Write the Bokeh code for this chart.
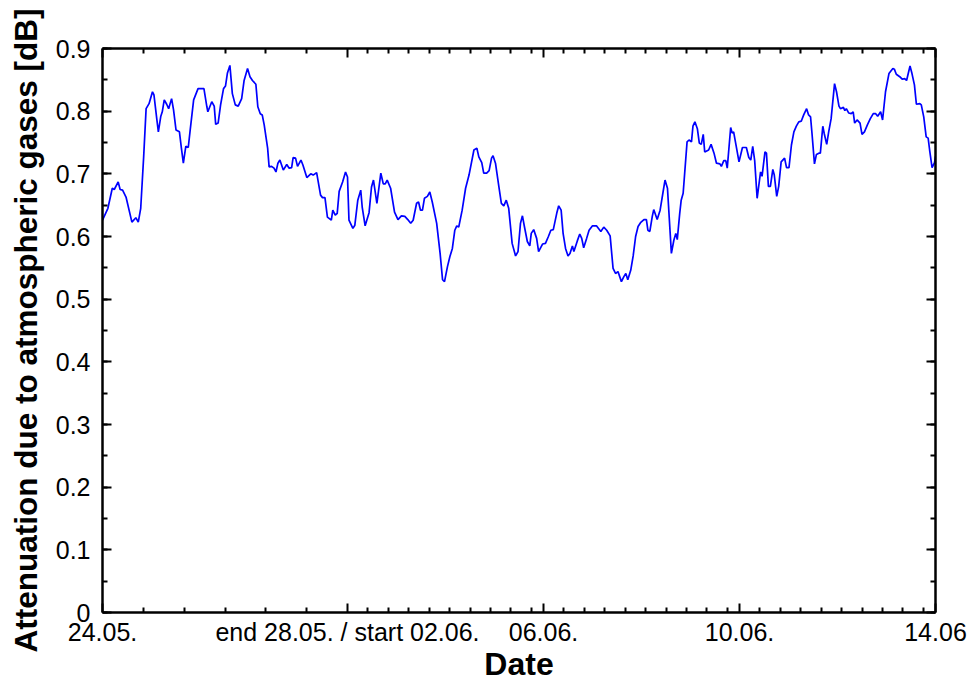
from bokeh.plotting import figure
from bokeh.models import (Range1d, LinearAxis, FixedTicker, SingleIntervalTicker,
                          NumeralTickFormatter)
from bokeh.embed import file_html
from bokeh.resources import INLINE

# Elapsed measurement time in days (24.05. 00:00 = 0; the gap 29.05.-01.06. is removed)
days = [
    0.00, 0.11, 0.20, 0.24, 0.32, 0.36, 0.41, 0.48, 0.60, 0.68, 0.73, 0.78, 0.84, 0.89, 0.95,
    1.02, 1.05, 1.11, 1.14, 1.19, 1.22, 1.26, 1.31, 1.35, 1.41, 1.45, 1.50, 1.57, 1.61, 1.65,
    1.70, 1.75, 1.79, 1.86, 1.95, 2.07, 2.13, 2.15, 2.23, 2.28, 2.31, 2.36, 2.41, 2.47, 2.51,
    2.55, 2.60, 2.65, 2.71, 2.77, 2.84, 2.89, 2.96, 3.01, 3.06, 3.13, 3.17, 3.22, 3.26, 3.30,
    3.37, 3.40, 3.45, 3.50, 3.54, 3.58, 3.62, 3.69, 3.76, 3.81, 3.86, 3.89, 3.94, 3.98, 4.05,
    4.09, 4.17, 4.25, 4.30, 4.37, 4.45, 4.49, 4.54, 4.59, 4.67, 4.70, 4.75, 4.79, 4.83, 4.90,
    4.96, 5.00, 5.03, 5.11, 5.15, 5.21, 5.27, 5.30, 5.36, 5.44, 5.49, 5.53, 5.60, 5.68, 5.73,
    5.77, 5.81, 5.88, 5.96, 6.03, 6.10, 6.17, 6.23, 6.29, 6.34, 6.41, 6.45, 6.49, 6.53, 6.57,
    6.63, 6.68, 6.73, 6.82, 6.89, 6.94, 6.98, 7.04, 7.09, 7.14, 7.19, 7.23, 7.27, 7.34, 7.41,
    7.48, 7.58, 7.64, 7.68, 7.74, 7.78, 7.84, 7.89, 7.94, 7.97, 8.02, 8.09, 8.14, 8.19, 8.24,
    8.29, 8.36, 8.43, 8.48, 8.53, 8.57, 8.61, 8.67, 8.72, 8.75, 8.80, 8.86, 8.90, 8.98, 9.04,
    9.10, 9.15, 9.20, 9.27, 9.31, 9.36, 9.40, 9.45, 9.50, 9.54, 9.59, 9.62, 9.69, 9.74, 9.78,
    9.82, 9.88, 9.93, 10.00, 10.08, 10.17, 10.23, 10.29, 10.36, 10.42, 10.47, 10.52, 10.59,
    10.64, 10.68, 10.72, 10.78, 10.83, 10.88, 10.93, 10.98, 11.05, 11.10, 11.13, 11.17, 11.22,
    11.25, 11.32, 11.38, 11.44, 11.48, 11.53, 11.61, 11.66, 11.70, 11.73, 11.78, 11.81, 11.85,
    11.93, 11.97, 12.02, 12.05, 12.09, 12.14, 12.18, 12.22, 12.26, 12.29, 12.37, 12.42, 12.48,
    12.53, 12.60, 12.63, 12.68, 12.72, 12.75, 12.82, 12.85, 12.88, 12.94, 12.99, 13.06, 13.14,
    13.19, 13.23, 13.27, 13.31, 13.36, 13.43, 13.46, 13.52, 13.55, 13.59, 13.63, 13.68, 13.71,
    13.76, 13.80, 13.85, 13.92, 13.96, 14.01, 14.06, 14.11, 14.16, 14.21, 14.26, 14.31, 14.37,
    14.41, 14.45, 14.48, 14.53, 14.57, 14.62, 14.65, 14.70, 14.73, 14.78, 14.82, 14.87, 14.94,
    14.98, 15.03, 15.06, 15.12, 15.15, 15.18, 15.23, 15.28, 15.32, 15.35, 15.40, 15.46, 15.50,
    15.55, 15.61, 15.67, 15.73, 15.78, 15.82, 15.88, 15.92, 15.98, 16.05, 16.13, 16.16, 16.20,
    16.27, 16.32, 16.37, 16.41, 16.48, 16.52, 16.57, 16.61, 16.68, 16.71, 16.76, 16.81, 16.85,
    16.88, 16.93, 16.98, 17.00,
]

# Attenuation due to atmospheric gases in dB
attenuation = [
    0.626, 0.645, 0.677, 0.675, 0.687, 0.675, 0.674, 0.663, 0.623, 0.630, 0.623, 0.645, 0.727, 0.804, 0.812,
    0.831, 0.826, 0.786, 0.767, 0.792, 0.799, 0.818, 0.811, 0.804, 0.820, 0.802, 0.770, 0.767, 0.741, 0.717,
    0.744, 0.742, 0.770, 0.818, 0.836, 0.836, 0.807, 0.799, 0.815, 0.808, 0.779, 0.781, 0.810, 0.836, 0.840,
    0.861, 0.873, 0.828, 0.810, 0.808, 0.820, 0.849, 0.868, 0.855, 0.849, 0.843, 0.807, 0.796, 0.794, 0.778,
    0.741, 0.711, 0.712, 0.709, 0.703, 0.717, 0.722, 0.706, 0.715, 0.709, 0.710, 0.726, 0.725, 0.712, 0.722,
    0.714, 0.694, 0.700, 0.698, 0.702, 0.666, 0.662, 0.662, 0.631, 0.626, 0.642, 0.634, 0.637, 0.672, 0.687,
    0.703, 0.695, 0.626, 0.613, 0.618, 0.658, 0.674, 0.647, 0.617, 0.638, 0.679, 0.690, 0.653, 0.701, 0.684,
    0.684, 0.690, 0.677, 0.639, 0.627, 0.633, 0.632, 0.627, 0.621, 0.626, 0.653, 0.655, 0.642, 0.642, 0.661,
    0.664, 0.671, 0.655, 0.621, 0.573, 0.531, 0.528, 0.552, 0.568, 0.581, 0.610, 0.617, 0.615, 0.642, 0.677,
    0.698, 0.738, 0.741, 0.727, 0.718, 0.701, 0.701, 0.705, 0.725, 0.729, 0.717, 0.679, 0.653, 0.649, 0.658,
    0.645, 0.589, 0.569, 0.576, 0.621, 0.633, 0.616, 0.592, 0.585, 0.605, 0.611, 0.597, 0.576, 0.588, 0.589,
    0.600, 0.610, 0.611, 0.637, 0.649, 0.642, 0.605, 0.581, 0.569, 0.573, 0.585, 0.576, 0.593, 0.604, 0.597,
    0.582, 0.597, 0.610, 0.617, 0.617, 0.608, 0.615, 0.610, 0.601, 0.549, 0.541, 0.544, 0.528,
    0.536, 0.541, 0.531, 0.546, 0.569, 0.600, 0.616, 0.622, 0.627, 0.627, 0.610, 0.608, 0.632,
    0.643, 0.627, 0.642, 0.671, 0.690, 0.677, 0.573, 0.594, 0.605, 0.595, 0.637, 0.658, 0.669,
    0.751, 0.754, 0.751, 0.776, 0.783, 0.772, 0.749, 0.747, 0.763, 0.735, 0.738, 0.747, 0.733,
    0.717, 0.716, 0.712, 0.721, 0.721, 0.709, 0.774, 0.765, 0.767, 0.741, 0.719, 0.742, 0.742,
    0.726, 0.722, 0.744, 0.721, 0.661, 0.703, 0.696, 0.735, 0.733, 0.680, 0.680, 0.707, 0.698,
    0.664, 0.680, 0.719, 0.725, 0.710, 0.710, 0.746, 0.767, 0.776, 0.783, 0.784, 0.794, 0.804,
    0.794, 0.791, 0.764, 0.716, 0.731, 0.733, 0.733, 0.776, 0.764, 0.747, 0.767, 0.788, 0.844,
    0.831, 0.808, 0.804, 0.806, 0.801, 0.804, 0.797, 0.796, 0.799, 0.781, 0.786, 0.781, 0.763,
    0.767, 0.778, 0.788, 0.796, 0.796, 0.792, 0.799, 0.786, 0.831, 0.860, 0.868, 0.867, 0.859,
    0.855, 0.851, 0.852, 0.849, 0.872, 0.860, 0.842, 0.811, 0.812, 0.810, 0.791, 0.759, 0.757,
    0.738, 0.710, 0.718, 0.728,
]

# Date labels placed on the elapsed-day axis
date_tick_days = [0, 5, 9, 13, 17]
date_tick_labels = ["24.05.", "end 28.05. / start 02.06.", "06.06.", "10.06.", "14.06"]

FONT = "Liberation Sans"

p = figure(width=971, height=684, output_backend="svg", toolbar_location=None,
           x_range=Range1d(0, 17), y_range=Range1d(0, 0.9),
           x_axis_label="Date",
           y_axis_label="Attenuation due to atmospheric gases [dB]")
p.min_border_left = 102
p.min_border_right = 36
p.min_border_top = 48
p.min_border_bottom = 71
p.outline_line_color = None
p.xgrid.visible = False
p.ygrid.visible = False
p.background_fill_color = "white"
p.border_fill_color = "white"

p.line(days, attenuation, line_color="#0000FF", line_width=1.7)

# minor ticks: every 20 h in the May block, every 10 h after each June label
minor_x = [k * 5 / 6 for k in range(1, 6)]
for start in date_tick_days[1:4]:
    minor_x += [start + k * 10 / 24 for k in range(1, 10)]


def x_ticker():
    return FixedTicker(ticks=date_tick_days, minor_ticks=minor_x)


def style(axis, show_labels):
    axis.axis_line_color = "black"
    axis.axis_line_width = 2.5
    axis.major_tick_line_color = "black"
    axis.minor_tick_line_color = "black"
    axis.major_tick_line_width = 2
    axis.minor_tick_line_width = 2
    axis.major_tick_in = 9
    axis.major_tick_out = 0
    axis.minor_tick_in = 5
    axis.minor_tick_out = 0
    axis.major_label_text_font = FONT
    axis.major_label_text_font_size = "25px"
    axis.major_label_text_color = "black" if show_labels else None
    axis.axis_label_text_font = FONT
    axis.axis_label_text_font_style = "bold"
    axis.axis_label_text_font_size = "32px"
    axis.axis_label_text_color = "black"


xa = p.xaxis[0]
xa.ticker = x_ticker()
xa.major_label_overrides = dict(zip(date_tick_days, date_tick_labels))
style(xa, True)
xa.major_label_standoff = 5
xa.axis_label_standoff = -3

ya = p.yaxis[0]
ya.ticker = SingleIntervalTicker(interval=0.1, num_minor_ticks=2)
ya.formatter = NumeralTickFormatter(format="0.[0]")
style(ya, True)
ya.axis_label_text_font_size = "31.5px"
ya.major_label_standoff = 12
ya.axis_label_standoff = 9

top = LinearAxis(ticker=x_ticker())
style(top, False)
top.major_label_text_font_size = "0px"
p.add_layout(top, "above")

right = LinearAxis(ticker=SingleIntervalTicker(interval=0.1, num_minor_ticks=2))
style(right, False)
right.major_label_text_font_size = "0px"
p.add_layout(right, "right")

open("out.html", "w").write(file_html(p, INLINE))
